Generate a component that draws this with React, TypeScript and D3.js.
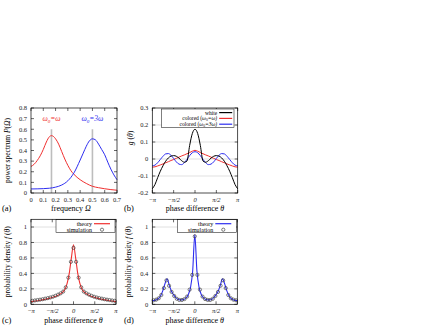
import React from 'react';
import * as d3 from 'd3';

const FONT = "'Liberation Serif','Times New Roman',serif";
const RED = '#f03030';
const BLUE = '#2d2df0';

// ---------- panel (a): power spectrum ----------
const freqRed = [0, 0.025, 0.05, 0.075, 0.1, 0.125, 0.15, 0.167, 0.185, 0.2, 0.225, 0.25, 0.275, 0.3, 0.325, 0.35, 0.4, 0.45, 0.5, 0.55, 0.6, 0.65, 0.7];
const powerRed = [0.25, 0.27, 0.305, 0.35, 0.41, 0.48, 0.53, 0.54, 0.53, 0.51, 0.46, 0.39, 0.32, 0.26, 0.21, 0.175, 0.125, 0.09, 0.063, 0.05, 0.04, 0.032, 0.026];
const freqBlue = [0, 0.05, 0.1, 0.15, 0.2, 0.25, 0.3, 0.35, 0.4, 0.425, 0.45, 0.475, 0.5, 0.525, 0.55, 0.575, 0.6, 0.625, 0.65, 0.675, 0.7];
const powerBlue = [0.038, 0.039, 0.041, 0.045, 0.055, 0.075, 0.115, 0.19, 0.31, 0.375, 0.44, 0.49, 0.51, 0.5, 0.46, 0.41, 0.36, 0.29, 0.225, 0.17, 0.125];
const omega0Marks = [0.1667, 0.5];
const omega0MarkTop = 0.6;
const freqTicks = [0, 0.1, 0.2, 0.3, 0.4, 0.5, 0.6, 0.7];
const freqTickLabels = ['0', '0.1', '0.2', '0.3', '0.4', '0.5', '0.6', '0.7'];
const powerTicks = [0, 0.1, 0.2, 0.3, 0.4, 0.5, 0.6, 0.7, 0.8];
const powerTickLabels = ['0', '0.1', '0.2', '0.3', '0.4', '0.5', '0.6', '0.7', '0.8'];

// ---------- panel (b): coupling function g(theta), theta in units of pi ----------
const thetaB = [-1, -0.9375, -0.875, -0.8125, -0.75, -0.6875, -0.625, -0.5625, -0.5, -0.4375, -0.375, -0.3125, -0.25, -0.1875, -0.125, -0.0625, 0,
  0.0625, 0.125, 0.1875, 0.25, 0.3125, 0.375, 0.4375, 0.5, 0.5625, 0.625, 0.6875, 0.75, 0.8125, 0.875, 0.9375, 1];
const gWhite = [-0.175, -0.15, -0.11, -0.072, -0.04, -0.013, 0.006, 0.017, 0.02, 0.016, 0.005, -0.01, -0.019, -0.012, 0.08, 0.15, 0.175,
  0.15, 0.08, -0.012, -0.019, -0.01, 0.005, 0.016, 0.02, 0.017, 0.006, -0.013, -0.04, -0.072, -0.11, -0.15, -0.175];
const gRed = [-0.048, -0.046, -0.041, -0.035, -0.029, -0.022, -0.016, -0.009, -0.003, 0.004, 0.011, 0.018, 0.024, 0.031, 0.038, 0.046, 0.051,
  0.046, 0.038, 0.031, 0.024, 0.018, 0.011, 0.004, -0.003, -0.009, -0.016, -0.022, -0.029, -0.035, -0.041, -0.046, -0.048];
const gBlue = [-0.04, -0.036, -0.022, -0.003, 0.016, 0.03, 0.032, 0.022, 0.003, -0.017, -0.03, -0.033, -0.022, -0.002, 0.02, 0.037, 0.043,
  0.037, 0.02, -0.002, -0.022, -0.033, -0.03, -0.017, 0.003, 0.022, 0.032, 0.03, 0.016, -0.003, -0.022, -0.036, -0.04];
const gTicks = [-0.2, -0.1, 0, 0.1, 0.2, 0.3];
const gTickLabels = ['-0.2', '-0.1', '0', '0.1', '0.2', '0.3'];
const gGrid = [-0.1, 0, 0.1, 0.2];
const phaseTicks = [-1, -0.5, 0, 0.5, 1];
const phaseTickLabels = ['\u2212\u03c0', '\u2212\u03c0/2', '0', '\u03c0/2', '\u03c0'];

// ---------- panels (c),(d): phase-difference densities ----------
const thetaTheory = [-1, -0.95, -0.9, -0.85, -0.8, -0.75, -0.7, -0.65, -0.6, -0.55, -0.5, -0.45, -0.4, -0.35, -0.3, -0.25, -0.2, -0.15, -0.1, -0.05, 0,
  0.05, 0.1, 0.15, 0.2, 0.25, 0.3, 0.35, 0.4, 0.45, 0.5, 0.55, 0.6, 0.65, 0.7, 0.75, 0.8, 0.85, 0.9, 0.95, 1];
const fTheoryC = [0.035, 0.038, 0.042, 0.046, 0.051, 0.056, 0.061, 0.067, 0.073, 0.08, 0.088, 0.097, 0.108, 0.12, 0.138, 0.16, 0.195, 0.27, 0.4, 0.6, 0.77,
  0.6, 0.4, 0.27, 0.195, 0.16, 0.138, 0.12, 0.108, 0.097, 0.088, 0.08, 0.073, 0.067, 0.061, 0.056, 0.051, 0.046, 0.042, 0.038, 0.035];
const fTheoryD = [0.048, 0.051, 0.06, 0.078, 0.115, 0.18, 0.27, 0.33, 0.245, 0.17, 0.125, 0.088, 0.066, 0.057, 0.057, 0.065, 0.085, 0.13, 0.22, 0.43, 0.9,
  0.43, 0.22, 0.13, 0.085, 0.065, 0.057, 0.057, 0.066, 0.088, 0.125, 0.17, 0.245, 0.33, 0.27, 0.18, 0.115, 0.078, 0.06, 0.051, 0.048];
const thetaSim = [-0.9697, -0.9091, -0.8485, -0.7879, -0.7273, -0.6667, -0.6061, -0.5455, -0.4848, -0.4242, -0.3636, -0.303, -0.2424, -0.1818, -0.1212, -0.0606, 0,
  0.0606, 0.1212, 0.1818, 0.2424, 0.303, 0.3636, 0.4242, 0.4848, 0.5455, 0.6061, 0.6667, 0.7273, 0.7879, 0.8485, 0.9091, 0.9697];
const fSimC = [0.045, 0.05, 0.055, 0.06, 0.066, 0.073, 0.08, 0.088, 0.098, 0.11, 0.125, 0.142, 0.165, 0.22, 0.345, 0.55, 0.73,
  0.55, 0.345, 0.22, 0.165, 0.142, 0.125, 0.11, 0.098, 0.088, 0.08, 0.073, 0.066, 0.06, 0.055, 0.05, 0.045];
const fSimD = [0.052, 0.06, 0.078, 0.12, 0.21, 0.31, 0.24, 0.16, 0.108, 0.072, 0.056, 0.056, 0.068, 0.1, 0.19, 0.38, 0.88,
  0.38, 0.19, 0.1, 0.068, 0.056, 0.056, 0.072, 0.108, 0.16, 0.24, 0.31, 0.21, 0.12, 0.078, 0.06, 0.052];
const densTicks = [0, 0.2, 0.4, 0.6, 0.8, 1];
const densTickLabels = ['0', '0.2', '0.4', '0.6', '0.8', '1'];
const densGrid = [0.2, 0.4, 0.6, 0.8, 1];

type Box = { x0: number; x1: number; y0: number; y1: number };

function Axes(props: {
  box: Box; xs: any; ys: any; xTicks: number[]; xLabels: string[]; yTicks: number[]; yLabels: string[];
  grid?: number[]; italicX?: boolean;
}) {
  const { box, xs, ys, xTicks, xLabels, yTicks, yLabels, grid, italicX } = props;
  const t = 3;
  return (
    <g>
      {(grid || []).map((v, i) => (
        <line key={'g' + i} x1={box.x0} x2={box.x1} y1={ys(v)} y2={ys(v)} stroke="#d4d4d4" strokeWidth={0.7} />
      ))}
      {xTicks.map((v, i) => (
        <g key={'x' + i}>
          <line x1={xs(v)} x2={xs(v)} y1={box.y1} y2={box.y1 - t} stroke="#000" strokeWidth={0.6} />
          <line x1={xs(v)} x2={xs(v)} y1={box.y0} y2={box.y0 + t} stroke="#000" strokeWidth={0.6} />
          <text x={xs(v)} y={box.y1 + 8.5} fontSize={6.5} textAnchor="middle" fontStyle={italicX ? 'italic' : 'normal'} fill="#222">{xLabels[i]}</text>
        </g>
      ))}
      {yTicks.map((v, i) => (
        <g key={'y' + i}>
          <line x1={box.x0} x2={box.x0 + t} y1={ys(v)} y2={ys(v)} stroke="#000" strokeWidth={0.6} />
          <line x1={box.x1} x2={box.x1 - t} y1={ys(v)} y2={ys(v)} stroke="#000" strokeWidth={0.6} />
          <text x={box.x0 - 4} y={ys(v) + 2.3} fontSize={6.5} textAnchor="end" fill="#222">{yLabels[i]}</text>
        </g>
      ))}
    </g>
  );
}

function FrameRect({ box }: { box: Box }) {
  return <rect x={box.x0} y={box.y0} width={box.x1 - box.x0} height={box.y1 - box.y0} fill="none" stroke="#000" strokeWidth={0.7} />;
}

export default function App() {
  const boxA: Box = { x0: 31, x1: 117, y0: 108, y1: 193 };
  const boxB: Box = { x0: 152.3, x1: 237.7, y0: 108, y1: 193 };
  const boxC: Box = { x0: 31, x1: 116, y0: 219.3, y1: 304.3 };
  const boxD: Box = { x0: 152.3, x1: 237.3, y0: 219.3, y1: 304.3 };

  const xa = d3.scaleLinear().domain([0, 0.7]).range([boxA.x0, boxA.x1]);
  const ya = d3.scaleLinear().domain([0, 0.8]).range([boxA.y1, boxA.y0]);
  const xb = d3.scaleLinear().domain([-1, 1]).range([boxB.x0, boxB.x1]);
  const yb = d3.scaleLinear().domain([-0.2, 0.3]).range([boxB.y1, boxB.y0]);
  const xc = d3.scaleLinear().domain([-1, 1]).range([boxC.x0, boxC.x1]);
  const yc = d3.scaleLinear().domain([0, 1.1]).range([boxC.y1, boxC.y0]);
  const xd = d3.scaleLinear().domain([-1, 1]).range([boxD.x0, boxD.x1]);
  const yd = d3.scaleLinear().domain([0, 1.1]).range([boxD.y1, boxD.y0]);

  const mk = (xs: any, ys: any, xsArr: number[], ysArr: number[]) =>
    d3.line<number>().x((_, i) => xs(xsArr[i])).y((v) => ys(v)).curve(d3.curveMonotoneX)(ysArr) || '';

  const legendB = [
    { label: 'white', color: '#000' },
    { label: 'colored (', sub: true, eq: '=\u03c9)', color: RED },
    { label: 'colored (', sub: true, eq: '=3\u03c9)', color: BLUE },
  ];

  const simLegend = (box: Box, color: string) => {
    const lx0 = box.x0 + 25;
    const lx1 = box.x1 - 1;
    const textX = box.x1 - 24;
    return (
      <g>
        <rect x={lx0} y={box.y0} width={lx1 - lx0} height={13.4} fill="#fff" stroke="#000" strokeWidth={0.5} />
        <text x={textX} y={box.y0 + 6.4} fontSize={6} textAnchor="end">theory</text>
        <line x1={textX + 2} x2={textX + 18} y1={box.y0 + 4.4} y2={box.y0 + 4.4} stroke={color} strokeWidth={1.2} />
        <text x={textX} y={box.y0 + 12.4} fontSize={6} textAnchor="end">simulation</text>
        <circle cx={textX + 10} cy={box.y0 + 10.4} r={1.6} fill="none" stroke="#444" strokeWidth={0.7} />
      </g>
    );
  };

  return (
    <svg width={436} height={327} style={{ position: 'absolute', left: 0, top: 0, background: '#fff' }} fontFamily={FONT}>
      <rect x={0} y={0} width={436} height={327} fill="#fff" />

      {/* ---------- (a) ---------- */}
      <Axes box={boxA} xs={xa} ys={ya} xTicks={freqTicks} xLabels={freqTickLabels} yTicks={powerTicks} yLabels={powerTickLabels} />
      {omega0Marks.map((m, i) => (
        <line key={i} x1={xa(m)} x2={xa(m)} y1={ya(0)} y2={ya(omega0MarkTop)} stroke="#bdbdbd" strokeWidth={1.6} />
      ))}
      <path d={mk(xa, ya, freqRed, powerRed)} fill="none" stroke={RED} strokeWidth={1} />
      <path d={mk(xa, ya, freqBlue, powerBlue)} fill="none" stroke={BLUE} strokeWidth={1} />
      <text x={xa(omega0Marks[0])} y={ya(0.7) + 2.5} fontSize={7.5} fill={RED} textAnchor="middle" fontStyle="italic">
        ω<tspan fontSize={5} dy={1.5}>0</tspan><tspan dy={-1.5}>=ω</tspan>
      </text>
      <text x={xa(omega0Marks[1])} y={ya(0.7) + 2.5} fontSize={7.5} fill={BLUE} textAnchor="middle" fontStyle="italic">
        ω<tspan fontSize={5} dy={1.5}>0</tspan><tspan dy={-1.5}>=3ω</tspan>
      </text>
      <FrameRect box={boxA} />
      <text x={(boxA.x0 + boxA.x1) / 2 - 3} y={211} fontSize={8} textAnchor="middle">
        frequency  <tspan fontStyle="italic">Ω</tspan>
      </text>
      <text x={2} y={211} fontSize={8.5}>(a)</text>
      <text transform={`translate(9.5,${(boxA.y0 + boxA.y1) / 2}) rotate(-90)`} fontSize={7.5} textAnchor="middle">
        power spectrum  <tspan fontStyle="italic">P</tspan>(<tspan fontStyle="italic">Ω</tspan>)
      </text>

      {/* ---------- (b) ---------- */}
      <Axes box={boxB} xs={xb} ys={yb} xTicks={phaseTicks} xLabels={phaseTickLabels} yTicks={gTicks} yLabels={gTickLabels} grid={gGrid} italicX />
      <path d={mk(xb, yb, thetaB, gRed)} fill="none" stroke={RED} strokeWidth={1} />
      <path d={mk(xb, yb, thetaB, gBlue)} fill="none" stroke={BLUE} strokeWidth={1} />
      <path d={mk(xb, yb, thetaB, gWhite)} fill="none" stroke="#000" strokeWidth={1} />
      <g>
        <rect x={boxB.x1 - 76} y={boxB.y0 + 1} width={72.3} height={18.7} fill="#fff" stroke="#000" strokeWidth={0.5} />
        {legendB.map((l, i) => {
          const yy = boxB.y0 + 4.6 + i * 5.8;
          return (
            <g key={i}>
              <text x={boxB.x1 - 20.5} y={yy + 1.9} fontSize={5.5} textAnchor="end">
                {l.label}
                {l.sub ? (
                  <>
                    <tspan fontStyle="italic">ω</tspan>
                    <tspan fontSize={3.6} dy={0.9}>0</tspan>
                    <tspan dy={-0.9} fontStyle="italic">{l.eq}</tspan>
                  </>
                ) : null}
              </text>
              <line x1={boxB.x1 - 18.5} x2={boxB.x1 - 5.5} y1={yy} y2={yy} stroke={l.color} strokeWidth={1.2} />
            </g>
          );
        })}
      </g>
      <FrameRect box={boxB} />
      <text x={(boxB.x0 + boxB.x1) / 2} y={211} fontSize={8} textAnchor="middle">
        phase difference  <tspan fontStyle="italic">θ</tspan>
      </text>
      <text x={124} y={211} fontSize={8.5}>(b)</text>
      <text transform={`translate(133,${138}) rotate(-90)`} fontSize={7.5} textAnchor="middle">
        <tspan fontStyle="italic">g</tspan> (<tspan fontStyle="italic">θ</tspan>)
      </text>

      {/* ---------- (c) ---------- */}
      <Axes box={boxC} xs={xc} ys={yc} xTicks={phaseTicks} xLabels={phaseTickLabels} yTicks={densTicks} yLabels={densTickLabels} grid={densGrid} italicX />
      <path d={mk(xc, yc, thetaTheory, fTheoryC)} fill="none" stroke={RED} strokeWidth={1.1} />
      {fSimC.map((v, i) => (
        <circle key={i} cx={xc(thetaSim[i])} cy={yc(v)} r={1.6} fill="none" stroke="#444" strokeWidth={0.7} />
      ))}
      {simLegend(boxC, RED)}
      <FrameRect box={boxC} />
      <text x={(boxC.x0 + boxC.x1) / 2} y={322.5} fontSize={8} textAnchor="middle">
        phase difference  <tspan fontStyle="italic">θ</tspan>
      </text>
      <text x={2} y={322.5} fontSize={8.5}>(c)</text>
      <text transform={`translate(9.5,${(boxC.y0 + boxC.y1) / 2}) rotate(-90)`} fontSize={7.5} textAnchor="middle">
        probability density  <tspan fontStyle="italic">f</tspan> (<tspan fontStyle="italic">θ</tspan>)
      </text>

      {/* ---------- (d) ---------- */}
      <Axes box={boxD} xs={xd} ys={yd} xTicks={phaseTicks} xLabels={phaseTickLabels} yTicks={densTicks} yLabels={densTickLabels} grid={densGrid} italicX />
      <path d={mk(xd, yd, thetaTheory, fTheoryD)} fill="none" stroke={BLUE} strokeWidth={1.1} />
      {fSimD.map((v, i) => (
        <circle key={i} cx={xd(thetaSim[i])} cy={yd(v)} r={1.6} fill="none" stroke="#444" strokeWidth={0.7} />
      ))}
      {simLegend(boxD, BLUE)}
      <FrameRect box={boxD} />
      <text x={(boxD.x0 + boxD.x1) / 2} y={322.5} fontSize={8} textAnchor="middle">
        phase difference  <tspan fontStyle="italic">θ</tspan>
      </text>
      <text x={124} y={322.5} fontSize={8.5}>(d)</text>
      <text transform={`translate(131,${(boxD.y0 + boxD.y1) / 2}) rotate(-90)`} fontSize={7.5} textAnchor="middle">
        probability density  <tspan fontStyle="italic">f</tspan> (<tspan fontStyle="italic">θ</tspan>)
      </text>
    </svg>
  );
}
